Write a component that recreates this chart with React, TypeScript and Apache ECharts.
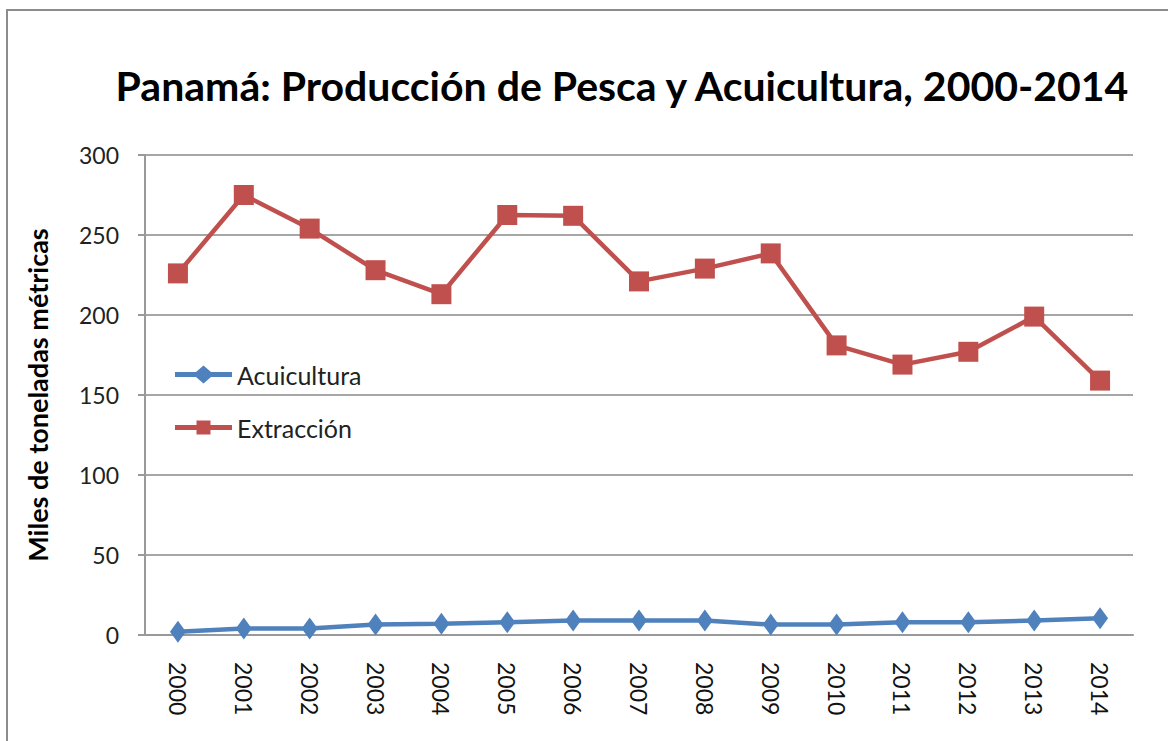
import React, { useEffect, useRef } from "react";
import * as echarts from "echarts";

const years = ["2000","2001","2002","2003","2004","2005","2006","2007","2008","2009","2010","2011","2012","2013","2014"];
const acuicultura = [2, 4, 4, 6.5, 7, 8, 9, 9, 9, 6.5, 6.5, 8, 8, 9, 10.5];
const extraccion = [226, 275, 254, 228, 213, 262.5, 262, 221, 229, 238.5, 181, 169, 177, 199, 159];
const title = "Panamá: Producción de Pesca y Acuicultura, 2000-2014";
const yName = "Miles de toneladas métricas";

const FONT = "Lato, 'Open Sans', sans-serif";

const ICON_DIAMOND =
  "path://M0,6.5L21,6.5L28.5,0L36,6.5L57,6.5L57,11.5L36,11.5L28.5,18L21,11.5L0,11.5Z";
const ICON_SQUARE =
  "path://M0,6.5L21.5,6.5L21.5,2L35.5,2L35.5,6.5L57,6.5L57,11.5L35.5,11.5L35.5,16L21.5,16L21.5,11.5L0,11.5Z";

export default function App() {
  const ref = useRef<HTMLDivElement>(null);
  useEffect(() => {
    if (!ref.current) return;
    const chart = echarts.init(ref.current, null, { renderer: "svg" });
    chart.setOption({
      animation: false,
      backgroundColor: "#ffffff",
      title: {
        text: title,
        left: 617,
        textAlign: "center",
        top: 60,
        textStyle: { fontFamily: FONT, fontWeight: "bold", fontSize: 41, color: "#000" },
      },
      graphic: [
        {
          type: "rect",
          shape: { x: 7, y: 10, width: 1200, height: 800 },
          style: { fill: "none", stroke: "#8c8c8c", lineWidth: 2 },
          silent: true,
        },
      ],
      legend: {
        orient: "vertical",
        left: 170,
        top: 357,
        itemWidth: 57,
        itemHeight: 18,
        itemGap: 28,
        textStyle: { fontFamily: FONT, fontSize: 25, color: "#222" },
        data: [
          { name: "Acuicultura", icon: ICON_DIAMOND },
          { name: "Extracción", icon: ICON_SQUARE },
        ],
      },
      grid: { left: 145, right: 35, top: 155, bottom: 106, containLabel: false },
      xAxis: {
        type: "category",
        data: years,
        boundaryGap: true,
        axisLine: { lineStyle: { color: "#999", width: 2 } },
        axisTick: { show: false },
        axisLabel: {
          rotate: -90,
          margin: 27,
          fontFamily: FONT,
          fontSize: 23,
          color: "#111",
        },
      },
      yAxis: {
        type: "value",
        min: 0,
        max: 300,
        interval: 50,
        name: yName,
        nameLocation: "middle",
        nameGap: 94,
        nameTextStyle: { fontFamily: FONT, fontWeight: "bold", fontSize: 27, color: "#000" },
        axisLine: { show: true, lineStyle: { color: "#999", width: 2 } },
        axisTick: { show: true, length: 7, lineStyle: { color: "#999", width: 2 } },
        axisLabel: { margin: 26, fontFamily: FONT, fontSize: 23, color: "#222" },
        splitLine: { lineStyle: { color: "#a6a6a6", width: 2 } },
      },
      series: [
        {
          name: "Acuicultura",
          type: "line",
          data: acuicultura,
          color: "#4f81bd",
          lineStyle: { width: 4.5, color: "#4f81bd" },
          symbol: "diamond",
          symbolSize: [16, 22],
          itemStyle: { color: "#4f81bd" },
        },
        {
          name: "Extracción",
          type: "line",
          data: extraccion,
          color: "#c0504d",
          lineStyle: { width: 4.5, color: "#c0504d" },
          symbol: "rect",
          symbolSize: 20,
          itemStyle: { color: "#c0504d" },
        },
      ],
    });
    return () => chart.dispose();
  }, []);
  return (
    <div
      ref={ref}
      style={{ position: "fixed", left: 0, top: 0, width: 1168, height: 741 }}
    />
  );
}
